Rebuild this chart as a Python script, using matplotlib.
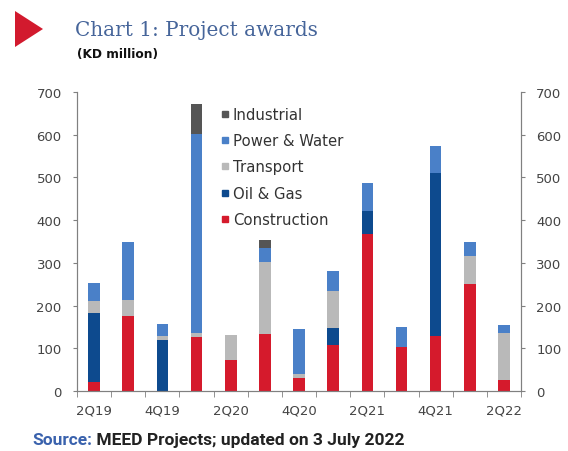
import matplotlib.pyplot as plt
from matplotlib.patches import Polygon
from matplotlib.lines import Line2D
import numpy as np

# quarters and values (KD million)
quarters = ["2Q19", "3Q19", "4Q19", "1Q20", "2Q20", "3Q20", "4Q20",
            "1Q21", "2Q21", "3Q21", "4Q21", "1Q22", "2Q22"]
construction = [20, 175, 0, 127, 72, 134, 30, 107, 368, 102, 128, 250, 25]
oil_gas      = [162, 0, 119, 0, 0, 0, 0, 40, 53, 0, 382, 0, 0]
transport    = [28, 38, 10, 10, 58, 168, 9, 87, 0, 0, 0, 65, 112]
power_water  = [42, 136, 29, 465, 0, 32, 106, 46, 67, 48, 63, 35, 18]
industrial   = [0, 0, 0, 70, 0, 20, 0, 0, 0, 0, 0, 0, 0]
x_labels = ["2Q19", "", "4Q19", "", "2Q20", "", "4Q20", "", "2Q21", "", "4Q21", "", "2Q22"]

series = [
    ("Construction", construction, "#d51a2c"),
    ("Oil & Gas", oil_gas, "#0d4a8e"),
    ("Transport", transport, "#b9b9b9"),
    ("Power & Water", power_water, "#4a80c8"),
    ("Industrial", industrial, "#555555"),
]

fig = plt.figure(figsize=(5.68, 4.52), dpi=100)
ax = fig.add_axes([0.1356, 0.1327, 0.7817, 0.6615])

x = np.arange(len(quarters))
bottom = np.zeros(len(quarters))
for name, vals, col in series:
    ax.bar(x, vals, width=0.34, bottom=bottom, color=col, label=name, linewidth=0)
    bottom = bottom + np.array(vals)

ax.set_xlim(-0.5, len(quarters) - 0.5)
ax.set_ylim(0, 700)
ax.set_yticks(range(0, 701, 100))

# x labels at bar centres, tick marks between bars
ax.set_xticks(x)
ax.set_xticklabels(x_labels)
ax.set_xticks(np.arange(-0.5, len(quarters), 1), minor=True)
ax.tick_params(axis="x", which="major", length=0, pad=9, labelsize=9.5, labelcolor="#444444")
ax.tick_params(axis="x", which="minor", length=4, direction="out", color="#808080")
ax.tick_params(axis="y", length=3, direction="out", color="#808080", labelsize=9.5,
               labelcolor="#444444", pad=8)

ax.spines["top"].set_visible(False)
for s in ["left", "right", "bottom"]:
    ax.spines[s].set_color("#808080")

ax2 = ax.twinx()
ax2.set_ylim(0, 700)
ax2.set_yticks(range(0, 701, 100))
ax2.tick_params(axis="y", length=3, direction="out", color="#808080", labelsize=9.5,
                labelcolor="#444444", pad=8)
ax2.spines["top"].set_visible(False)
for s in ["left", "right", "bottom"]:
    ax2.spines[s].set_color("#808080")

# legend, top series first
handles = [Line2D([], [], marker="s", markersize=5, linestyle="none", color=col)
           for name, vals, col in series[::-1]]
labels = [name for name, vals, col in series[::-1]]
ax.legend(handles, labels, loc="upper left", bbox_to_anchor=(0.286, 0.995), frameon=False,
          fontsize=10.7, labelcolor="#333333", handletextpad=0.05, handlelength=1.0,
          labelspacing=0.76)

# header
fig.patches.append(Polygon([[15 / 568, 1 - 12 / 452], [43 / 568, 1 - 30 / 452], [15 / 568, 1 - 48 / 452]],
                           closed=True, transform=fig.transFigure, color="#d21a2e", lw=0))
fig.text(75 / 568, 1 - 36 / 452, "Chart 1: Project awards", family="DejaVu Serif",
         fontsize=14.4, color="#46659a", va="baseline")
fig.text(77 / 568, 1 - 58 / 452, "(KD million)", fontsize=8.8, weight="bold", color="#111111",
         va="baseline")

# source line
src = fig.text(32 / 568, 1 - 445 / 452, "Source:", family="Roboto",
               fontsize=12.5, weight="bold", color="#3a62ad", va="baseline")
rest = fig.text(0, 1 - 445 / 452, " MEED Projects; updated on 3 July 2022", family="Roboto",
                fontsize=12.5, weight="bold", color="#222222", va="baseline")

# place the black part right after "Source:"
renderer = fig.canvas.get_renderer()
bb = src.get_window_extent(renderer)
rest.set_x(bb.x1 / fig.bbox.width)

fig.savefig("out.png", dpi=100)
